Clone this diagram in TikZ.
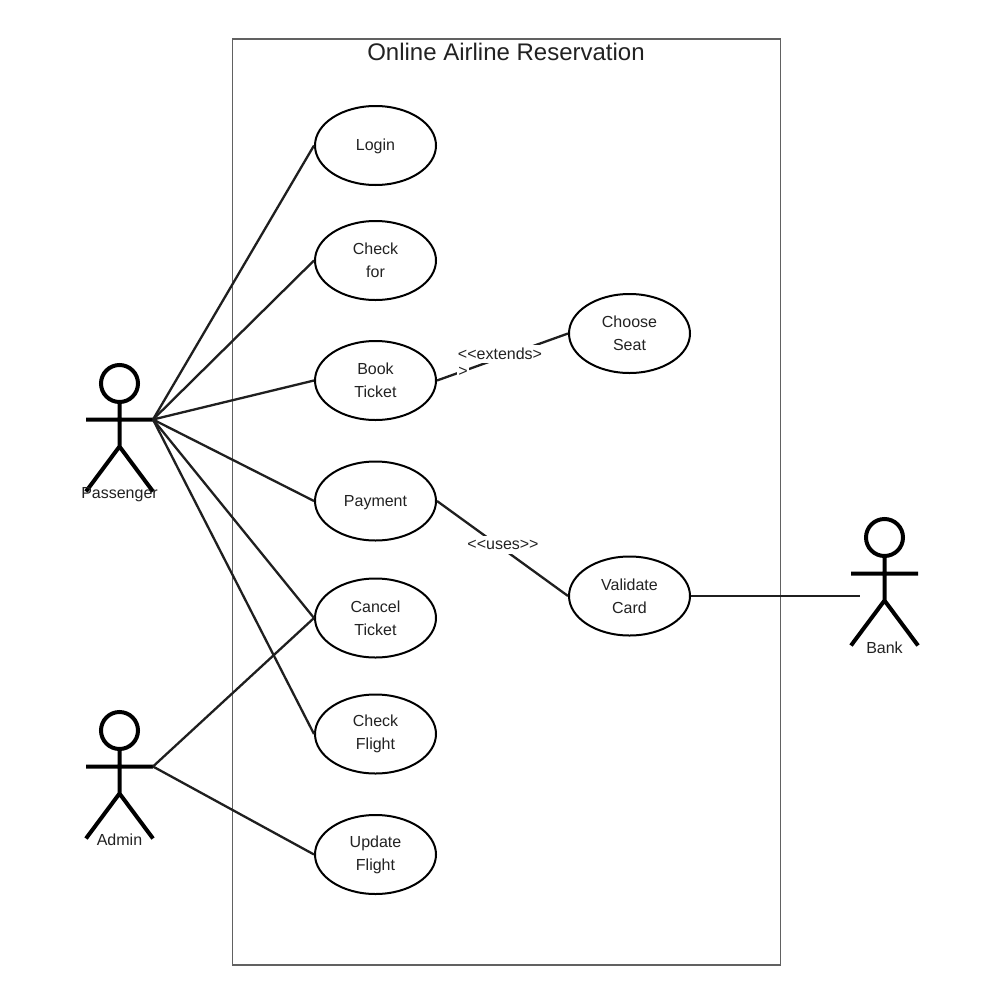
\documentclass[tikz,border=0pt]{standalone}
\usepackage{fontspec}
\setmainfont{Liberation Sans}
\usetikzlibrary{shapes.geometric}
\definecolor{ink}{HTML}{1F1F1F}
\definecolor{txt}{HTML}{222222}
\tikzset{
  usecase/.style={ellipse,draw=black,line width=2pt,fill=white,minimum width=121pt,minimum height=79pt,inner sep=0pt,
     align=center,text=txt,font=\fontsize{16}{23.2}\selectfont},
  conn/.style={draw=ink,line width=2.3pt},
  lbl/.style={text=txt,font=\fontsize{16}{19}\selectfont,inner sep=0pt},
  stereo/.style={lbl,fill=white,inner xsep=1pt,inner ysep=0pt},
  actor/.pic={
    \draw[black,line width=4pt] (0,-36) circle[radius=18.5pt];
    \draw[black,line width=4pt] (0,-17) -- (0,27) (-33.5,0) -- (33.5,0)
       (-33.5,72) -- (0,27) -- (33.5,72);
    \coordinate (-hand) at (33.5,0);
  }
}
\begin{document}
\begin{tikzpicture}[x=1pt,y=-1pt]
\useasboundingbox[fill=white] (0,0) rectangle (1004,1004);
\node[draw=black!62,line width=1.2pt,minimum width=548pt,minimum height=926pt,inner sep=0pt,fill=white] (system) at (506.5,502) {};
\node[text=txt,font=\fontsize{24}{28}\selectfont,inner sep=0pt] (title) at (506,52) {Online Airline Reservation};

\pic (pass) at (119.5,419.5) {actor};
\pic (admin) at (119.5,766.5) {actor};
\pic (bank) at (884.5,573.5) {actor};

\foreach \n/\y/\t in {check/260.5/Check\\for,book/380.5/Book\\Ticket,cancel/618/Cancel\\Ticket,flight/734/Check\\Flight,update/854.5/Update\\Flight}
  \node[usecase] (\n) at (375.5,\y) {\t};
\node[usecase,text height=15pt,text depth=5pt] (login) at (375.5,145.5) {Login};
\node[usecase,text height=15pt,text depth=4pt] (pay) at (375.5,501) {Payment};
\node[usecase] (seat) at (629.5,333.5) {Choose\\Seat};
\node[usecase] (card) at (629.5,596) {Validate\\Card};
\coordinate (bankend) at (860,596);

\foreach \n in {login,check,book,pay,cancel,flight}
  \draw[conn] (pass-hand) -- (\n.west);
\draw[conn] (admin-hand) -- (cancel.west);
\draw[conn] (admin-hand) -- (update.west);
\draw[conn] (book.east) -- (seat.west);
\draw[conn] (pay.east) -- (card.west);
\draw[conn] (card.east) -- (bankend);

\node[stereo,minimum height=18pt] (ext1) at (500,354) {<{}<extends>};
\node[stereo,minimum height=15pt] (ext2) at (463,371.5) {>};
\node[stereo,minimum height=18pt] (uses) at (503,545) {<{}<uses>{}>};

\node[lbl] (passname) at (119.5,494.5) {Passenger};
\node[lbl] (adminname) at (119.5,839.5) {Admin};
\node[lbl] (bankname) at (884.5,647.5) {Bank};
\end{tikzpicture}
\end{document}
